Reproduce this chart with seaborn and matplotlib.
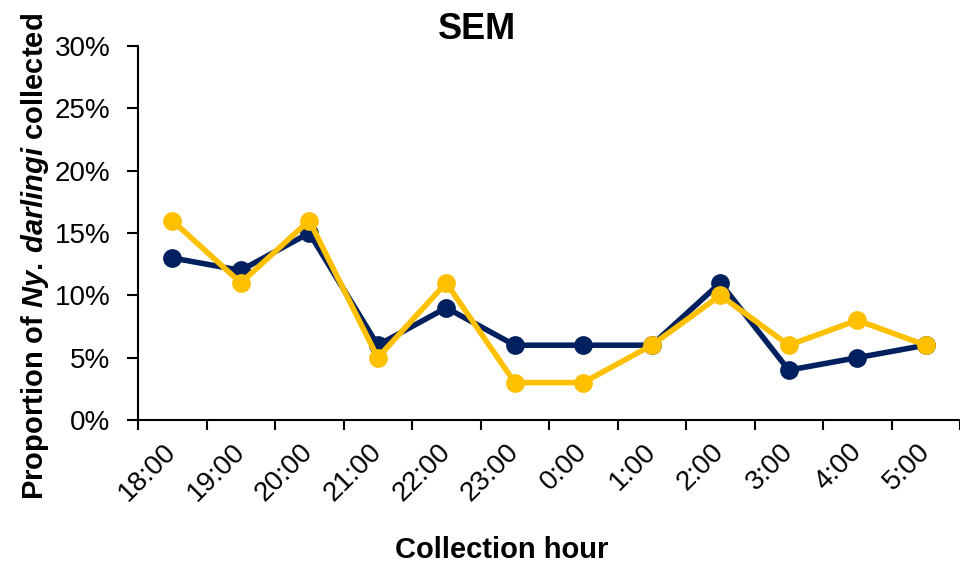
import pandas as pd
import matplotlib
matplotlib.use('Agg')
import matplotlib.pyplot as plt
import matplotlib.ticker as mticker
import seaborn as sns

# Data (percent of Ny. darlingi per hour)
hours = ['18:00', '19:00', '20:00', '21:00', '22:00', '23:00',
         '0:00', '1:00', '2:00', '3:00', '4:00', '5:00']
series_blue = [13, 12, 15, 6, 9, 6, 6, 6, 11, 4, 5, 6]
series_gold = [16, 11, 16, 5, 11, 3, 3, 6, 10, 6, 8, 6]
y_ticks = [0, 5, 10, 15, 20, 25, 30]

df = pd.DataFrame({
    'hour': hours * 2,
    'value': series_blue + series_gold,
    'series': ['Series 1'] * len(hours) + ['Series 2'] * len(hours),
})
palette = {'Series 1': '#002060', 'Series 2': '#FFC000'}

sns.set_style('white')
plt.rcParams['font.family'] = ['Liberation Sans', 'DejaVu Sans']
plt.rcParams['text.color'] = 'black'
plt.rcParams['axes.labelcolor'] = 'black'
plt.rcParams['xtick.color'] = 'black'
plt.rcParams['ytick.color'] = 'black'
plt.rcParams['mathtext.fontset'] = 'custom'
plt.rcParams['mathtext.rm'] = 'Liberation Sans:bold'
plt.rcParams['mathtext.it'] = 'Liberation Sans:italic:bold'
plt.rcParams['mathtext.bf'] = 'Liberation Sans:bold'

fig = plt.figure(figsize=(9.6, 5.68), dpi=100)
ax = fig.add_axes([138 / 960, 1 - 420 / 568, 822 / 960, 374 / 568])

sns.pointplot(data=df, x='hour', y='value', hue='series', order=hours,
              hue_order=['Series 1', 'Series 2'], palette=palette,
              markers='o', linestyles='-', markersize=10.5, linewidth=4,
              legend=False, ax=ax)

ax.set_xlim(-0.5, len(hours) - 0.5)
ax.set_ylim(0, 30)
ax.set_yticks(y_ticks)
ax.yaxis.set_major_formatter(mticker.PercentFormatter(xmax=100, decimals=0))

# tick marks between categories, labels at category centers
ax.set_xticks([i - 0.5 for i in range(len(hours) + 1)])
ax.set_xticklabels([])
ax.set_xticks(range(len(hours)), minor=True)
ax.set_xticklabels(hours, minor=True, rotation=45, ha='right', va='center',
                   rotation_mode='anchor', fontsize=20, color='black')
ax.tick_params(axis='x', which='major', direction='out', length=7, width=1.5,
               color='black', bottom=True)
ax.tick_params(axis='x', which='minor', length=0, pad=20, bottom=True)
ax.tick_params(axis='y', direction='out', length=8, width=1.5, color='black',
               labelsize=20, labelcolor='black', pad=12, left=True)

sns.despine(ax=ax)
for side in ['left', 'bottom']:
    ax.spines[side].set_color('black')
    ax.spines[side].set_linewidth(1.5)
ax.grid(False)

ax.set_title('SEM', fontsize=26, fontweight='bold', x=0.412, y=1.043,
             pad=0, va='center', color='black')
ax.set_xlabel('Collection hour', fontsize=21, fontweight='bold', color='black')
ax.xaxis.label.set_va('center')
ax.xaxis.set_label_coords(0.443, -0.348)
ax.set_ylabel(r'Proportion of $\mathit{Ny.\,darlingi}$ collected',
              fontsize=21, fontweight='bold', color='black')
ax.yaxis.label.set_va('center')
ax.yaxis.set_label_coords(-0.1253, 0.436)

fig.savefig('out.png', dpi=100)
